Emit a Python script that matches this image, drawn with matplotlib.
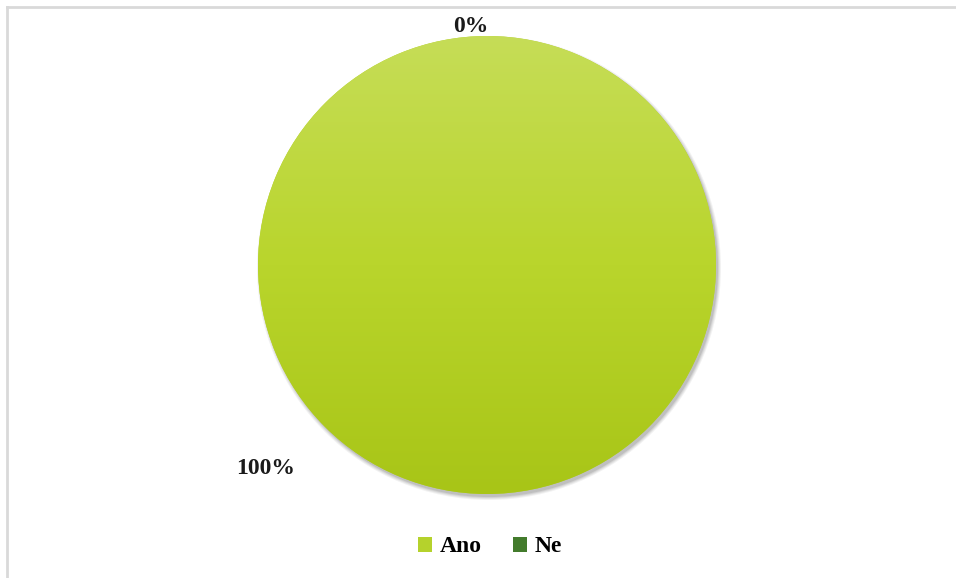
import matplotlib.pyplot as plt
import numpy as np
from matplotlib.colors import LinearSegmentedColormap
from matplotlib.patches import Patch, Circle
from matplotlib.lines import Line2D

categories = ['Ano', 'Ne']
values = [100, 0]
colors = ['#b5d22c', '#437b2c']
pct_labels = ['100%', '0%']

plt.rcParams['font.family'] = ['Liberation Serif', 'DejaVu Serif']

W, H = 956, 578
fig = plt.figure(figsize=(W / 100, H / 100), dpi=100, facecolor='white')
ax = fig.add_axes([0, 0, 1, 1])

# outer chart border (only top and left visible)
fig.add_artist(Line2D([7 / W, 7 / W], [0, 1 - 7 / H], color='#d9d9d9', lw=2))
fig.add_artist(Line2D([7 / W, 1], [1 - 7 / H, 1 - 7 / H], color='#d9d9d9', lw=2))

cx, cy, r = 487, H - 265, 229

# soft shadow
for k, a in enumerate([0.05, 0.06, 0.07, 0.09]):
    ax.add_patch(Circle((cx + 2, cy - 3), r + 3 - k, color='black', alpha=a, lw=0, zorder=1))

wedges, _ = ax.pie(values, colors=colors, startangle=90, counterclock=False,
                   center=(cx, cy), radius=r, frame=True,
                   wedgeprops=dict(linewidth=0))
for w in wedges:
    w.set_zorder(2)
ax.set_xlim(0, W)
ax.set_ylim(0, H)
ax.axis('off')

# vertical gradient over the main wedge
cmap = LinearSegmentedColormap.from_list('g', ['#c6dd57', '#b9d52c', '#a8c517'])
grad = np.linspace(0, 1, 256).reshape(-1, 1)
im = ax.imshow(grad, cmap=cmap, extent=[cx - r, cx + r, cy - r, cy + r],
               origin='upper', aspect='auto', zorder=3)
im.set_clip_path(wedges[0])

ax.text(471, H - 27, pct_labels[1], ha='center', va='center',
        fontsize=17, fontweight='bold', color='#1a1a1a', zorder=5)
ax.text(266, H - 469, pct_labels[0], ha='center', va='center',
        fontsize=17, fontweight='bold', color='#1a1a1a', zorder=5)

handles = [Patch(facecolor=c, edgecolor='none') for c in colors]
ax.legend(handles, categories, loc='center', bbox_to_anchor=(490 / W, 1 - 547 / H),
          ncol=2, frameon=False, prop=dict(size=17, weight='bold'),
          handlelength=0.6, handleheight=0.6, handletextpad=0.35, columnspacing=1.3)

ax.set_aspect('equal')
fig.savefig('out.png', dpi=100, facecolor='white')
